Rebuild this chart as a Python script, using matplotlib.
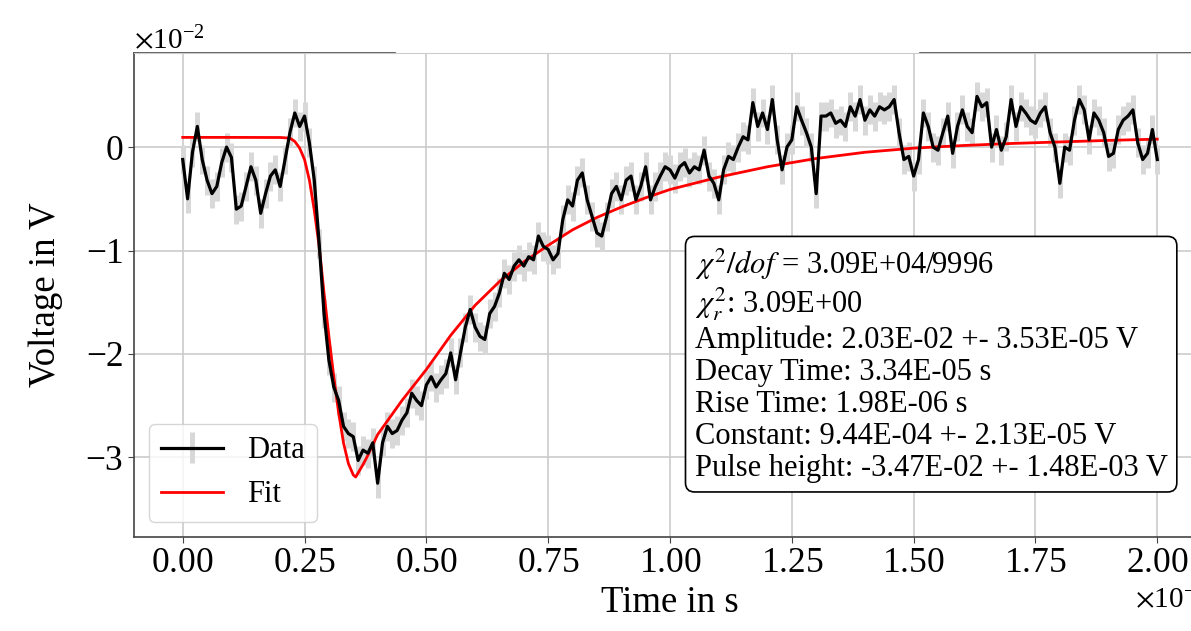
import numpy as np
import matplotlib.pyplot as plt
from matplotlib.ticker import MultipleLocator

plt.rcParams['font.family'] = ['Liberation Serif', 'DejaVu Serif']
plt.rcParams['mathtext.fontset'] = 'stix'

# measured voltage (units of 1e-2 V), sampled every 1e-6 s from 0 to 2e-4 s
v_data = [
    -0.12, -0.50, -0.05, 0.20, -0.12, -0.32, -0.45, -0.38, -0.15, 0.00,
    -0.10, -0.60, -0.57, -0.38, -0.19, -0.32, -0.64, -0.45, -0.28, -0.22,
    -0.38, -0.12, 0.14, 0.33, 0.20, 0.30, 0.04, -0.32, -0.93, -1.61,
    -2.06, -2.32, -2.45, -2.70, -2.77, -2.80, -3.03, -2.93, -2.96, -2.86,
    -3.25, -2.86, -2.70, -2.77, -2.74, -2.64, -2.57, -2.38, -2.45, -2.50,
    -2.30, -2.22, -2.32, -2.25, -2.19, -1.99, -2.25, -1.99, -1.74, -1.57,
    -1.74, -1.83, -1.86, -1.61, -1.54, -1.41, -1.22, -1.28, -1.15, -1.09,
    -1.15, -1.06, -1.09, -0.86, -0.96, -0.99, -1.09, -1.03, -0.70, -0.51,
    -0.57, -0.32, -0.25, -0.51, -0.67, -0.83, -0.86, -0.67, -0.45, -0.38,
    -0.51, -0.32, -0.28, -0.51, -0.38, -0.19, -0.51, -0.38, -0.28, -0.19,
    -0.22, -0.30, -0.19, -0.15, -0.25, -0.19, -0.22, -0.03, -0.28, -0.35,
    -0.51, -0.22, -0.09, -0.12, 0.00, 0.10, 0.07, 0.43, 0.20, 0.33,
    0.17, 0.46, 0.07, -0.22, 0.00, 0.07, 0.39, 0.26, 0.14, 0.00,
    -0.45, 0.30, 0.30, 0.33, 0.23, 0.26, 0.20, 0.39, 0.30, 0.46,
    0.26, 0.36, 0.30, 0.39, 0.36, 0.39, 0.46, 0.14, -0.12, -0.09,
    -0.28, -0.12, 0.33, 0.20, 0.00, -0.03, 0.14, 0.30, -0.06, 0.20,
    0.36, 0.20, 0.14, 0.49, 0.39, 0.43, 0.00, 0.17, -0.03, 0.10,
    0.46, 0.20, 0.39, 0.33, 0.26, 0.23, 0.33, 0.39, 0.14, 0.00,
    -0.35, 0.00, -0.03, 0.26, 0.46, 0.36, 0.07, 0.33, 0.26, 0.14,
    -0.09, -0.06, 0.17, 0.26, 0.30, 0.36, 0.04, -0.12, -0.06, 0.17,
    -0.12,
]
v_err = 0.14  # 1e-2 V

# fitted pulse (time in 1e-4 s, voltage in 1e-2 V)
fit_t = [0.00, 0.10, 0.20, 0.22, 0.23, 0.24, 0.25, 0.26, 0.27, 0.28,
         0.29, 0.30, 0.31, 0.32, 0.33, 0.34, 0.35, 0.355, 0.36, 0.37,
         0.38, 0.40, 0.45, 0.50, 0.55, 0.60, 0.65, 0.70, 0.75, 0.80,
         0.85, 0.90, 0.95, 1.00, 1.10, 1.20, 1.30, 1.40, 1.50, 1.60,
         1.70, 1.80, 1.90, 2.00]
fit_v = [0.094, 0.094, 0.093, 0.087, 0.055, -0.01, -0.12, -0.32, -0.61, -0.96,
         -1.41, -1.83, -2.22, -2.57, -2.86, -3.06, -3.17, -3.19, -3.15, -3.07,
         -2.98, -2.78, -2.45, -2.15, -1.82, -1.53, -1.30, -1.11, -0.95, -0.80,
         -0.68, -0.58, -0.49, -0.41, -0.29, -0.19, -0.11, -0.05, -0.01, 0.015,
         0.035, 0.05, 0.065, 0.077]

info = "\n".join([
    r"$\chi^2/dof$ = 3.09E+04/9996",
    r"$\chi^2_r$: 3.09E+00",
    "Amplitude: 2.03E-02 +- 3.53E-05 V",
    "Decay Time: 3.34E-05 s",
    "Rise Time: 1.98E-06 s",
    "Constant: 9.44E-04 +- 2.13E-05 V",
    "Pulse height: -3.47E-02 +- 1.48E-03 V",
])

t = np.linspace(0, 2.0e-4, len(v_data))
v = np.array(v_data) * 1e-2

fig = plt.figure(figsize=(11.91, 6.31), dpi=100)
ax = fig.add_axes([0.1125, 0.149, 0.9001, 0.767])

eb = ax.errorbar(t, v, yerr=v_err * 1e-2, color='black', ecolor='#d8d8d8',
                 elinewidth=3.6, lw=2.3, label='Data')
fit_line, = ax.plot(np.array(fit_t) * 1e-4, np.array(fit_v) * 1e-2,
                    color='red', lw=2, label='Fit')

ax.set_xlim(-0.1e-4, 2.1e-4)
ax.set_ylim(-3.77e-2, 0.91e-2)
ax.xaxis.set_major_locator(MultipleLocator(0.25e-4))
ax.yaxis.set_major_locator(MultipleLocator(1e-2))
ax.ticklabel_format(style='sci', axis='both', scilimits=(0, 0), useMathText=True)
ax.xaxis.get_offset_text().set_fontsize(21)
ax.yaxis.get_offset_text().set_fontsize(21)

ax.grid(color='#cccccc', lw=1.2)
ax.set_axisbelow(True)
ax.tick_params(labelsize=25.5, length=4, color='#444444')
for s in ['left', 'bottom']:
    ax.spines[s].set_color('#444444')
    ax.spines[s].set_linewidth(1.2)
ax.spines['right'].set_visible(False)
ax.spines['top'].set_color('#cccccc')
ax.plot([0, 0.2435], [1, 1], transform=ax.transAxes, color='#444444', lw=1.2, clip_on=False)
ax.plot([0.733, 1], [1, 1], transform=ax.transAxes, color='#444444', lw=1.2, clip_on=False)

ax.set_xlabel('Time in s', fontsize=26.5)
ax.set_ylabel('Voltage in V', fontsize=26.5, labelpad=16)

ax.legend(handles=[eb, fit_line], labels=['Data', 'Fit'], loc='lower left', fontsize=22)
ax.text(0.523, 0.60, info, transform=ax.transAxes, fontsize=22, ha='left', va='top',
        linespacing=1.13,
        bbox=dict(boxstyle='round,pad=0.3', facecolor='white', edgecolor='black', lw=1.2))

fig.savefig('out.png', dpi=100)
